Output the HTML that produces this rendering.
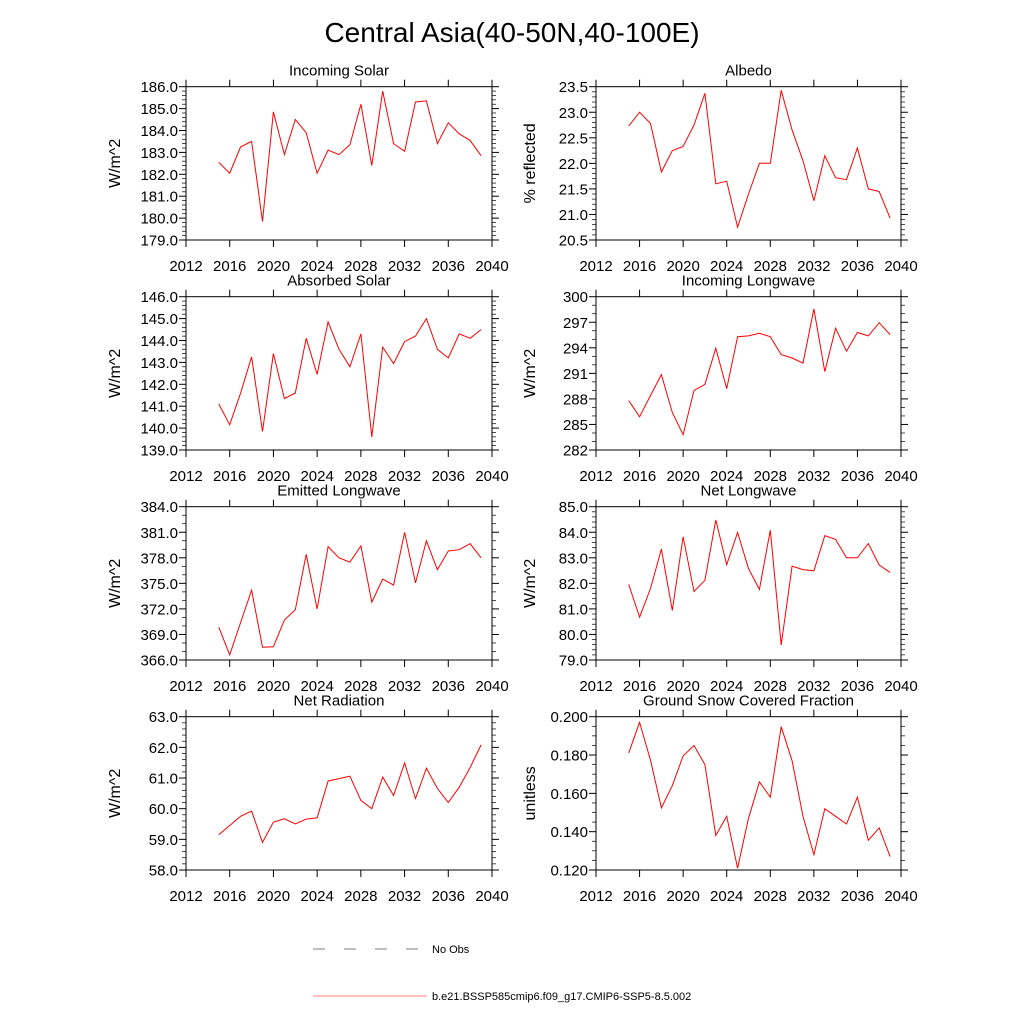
<!DOCTYPE html>
<html><head><meta charset="utf-8"><style>
html,body{margin:0;padding:0;background:#fff;}
svg{display:block;font-family:"Liberation Sans",sans-serif;}
</style></head><body>
<svg id="fig" width="1024" height="1024" viewBox="0 0 1024 1024" xmlns="http://www.w3.org/2000/svg">
<text x="512" y="42" font-size="28" text-anchor="middle">Central Asia(40-50N,40-100E)</text>
<g>
<line x1="313" y1="949" x2="418" y2="949" stroke="#000" stroke-width="0.6" stroke-dasharray="12,19"/>
<text x="432" y="953" font-size="11">No Obs</text>
<line x1="313" y1="996" x2="427" y2="996" stroke="#f00" stroke-width="0.6"/>
<text x="432" y="1000" font-size="11">b.e21.BSSP585cmip6.f09_g17.CMIP6-SSP5-8.5.002</text>
</g>
</svg>
<script>
const years = [2015,2016,2017,2018,2019,2020,2021,2022,2023,2024,2025,2026,2027,2028,2029,2030,2031,2032,2033,2034,2035,2036,2037,2038,2039];
const xTicks = [2012,2016,2020,2024,2028,2032,2036,2040];
const incomingSolar = [182.55,182.05,183.25,183.5,179.85,184.85,182.9,184.5,183.9,182.05,183.1,182.9,183.35,185.2,182.4,185.8,183.4,183.05,185.3,185.35,183.4,184.35,183.85,183.55,182.85];
const albedo = [22.73,23.0,22.78,21.83,22.25,22.33,22.75,23.37,21.6,21.65,20.75,21.4,22.0,22.0,23.43,22.65,22.05,21.27,22.15,21.72,21.68,22.3,21.5,21.45,20.93];
const absorbedSolar = [141.1,140.15,141.6,143.25,139.85,143.4,141.35,141.6,144.1,142.45,144.85,143.6,142.8,144.3,139.6,143.7,142.95,143.95,144.2,145.0,143.6,143.2,144.3,144.1,144.5];
const incomingLW = [287.8,285.9,288.4,290.85,286.4,283.8,289.0,289.7,293.95,289.2,295.3,295.4,295.7,295.3,293.2,292.8,292.2,298.55,291.2,296.3,293.6,295.8,295.4,296.95,295.55];
const emittedLW = [369.85,366.6,370.4,374.2,367.5,367.55,370.7,371.9,378.4,372.0,379.3,378.0,377.5,379.4,372.8,375.5,374.8,381.0,375.05,380.0,376.6,378.8,378.95,379.65,378.0];
const netLW = [81.96,80.68,81.8,83.34,80.94,83.82,81.68,82.12,84.48,82.73,83.99,82.58,81.76,84.08,79.59,82.67,82.54,82.49,83.87,83.72,83.0,83.0,83.56,82.72,82.43];
const netRad = [59.15,59.45,59.75,59.92,58.9,59.56,59.67,59.5,59.66,59.7,60.9,60.98,61.06,60.27,60.0,61.03,60.43,61.49,60.33,61.32,60.66,60.2,60.7,61.34,62.08];
const snowFrac = [0.1811,0.197,0.1773,0.1524,0.164,0.1795,0.185,0.175,0.138,0.148,0.121,0.147,0.166,0.158,0.1948,0.177,0.148,0.128,0.152,0.148,0.144,0.158,0.1355,0.142,0.127];
const ticksIS = [179,180,181,182,183,184,185,186];
const ticksAlb = [20.5,21.0,21.5,22.0,22.5,23.0,23.5];
const ticksAS = [139,140,141,142,143,144,145,146];
const ticksILW = [282,285,288,291,294,297,300];
const ticksELW = [366,369,372,375,378,381,384];
const ticksNLW = [79,80,81,82,83,84,85];
const ticksNR = [58,59,60,61,62,63];
const ticksSnow = [0.12,0.14,0.16,0.18,0.20];

const NS='http://www.w3.org/2000/svg';
const svg=document.getElementById('fig');
function mk(tag,attrs,parent){const e=document.createElementNS(NS,tag);for(const k in attrs)e.setAttribute(k,attrs[k]);(parent||svg).appendChild(e);return e;}

const panels=[
 {key:'incoming-solar',title:'Incoming Solar',ylab:'W/m^2',vals:incomingSolar,ticks:ticksIS,dec:1,minor:5,col:0,row:0},
 {key:'albedo',title:'Albedo',ylab:'% reflected',vals:albedo,ticks:ticksAlb,dec:1,minor:5,col:1,row:0},
 {key:'absorbed-solar',title:'Absorbed Solar',ylab:'W/m^2',vals:absorbedSolar,ticks:ticksAS,dec:1,minor:5,col:0,row:1},
 {key:'incoming-longwave',title:'Incoming Longwave',ylab:'W/m^2',vals:incomingLW,ticks:ticksILW,dec:0,minor:3,col:1,row:1},
 {key:'emitted-longwave',title:'Emitted Longwave',ylab:'W/m^2',vals:emittedLW,ticks:ticksELW,dec:1,minor:3,col:0,row:2},
 {key:'net-longwave',title:'Net Longwave',ylab:'W/m^2',vals:netLW,ticks:ticksNLW,dec:1,minor:5,col:1,row:2},
 {key:'net-radiation',title:'Net Radiation',ylab:'W/m^2',vals:netRad,ticks:ticksNR,dec:1,minor:5,col:0,row:3},
 {key:'snow-fraction',title:'Ground Snow Covered Fraction',ylab:'unitless',vals:snowFrac,ticks:ticksSnow,dec:3,minor:4,col:1,row:3}
];
const colX=[186,596], W=[306,305], rowY=[86.7,296.7,506.7,716.7], H=153.3;

panels.forEach(p=>{
  const x0=colX[p.col], w=W[p.col], y0=rowY[p.row];
  const g=mk('g',{});
  
  
  const xmin=xTicks[0], xmax=xTicks[xTicks.length-1];
  const ymin=p.ticks[0], ymax=p.ticks[p.ticks.length-1];
  const sx=v=>x0+(v-xmin)/(xmax-xmin)*w;
  const sy=v=>y0+H-(v-ymin)/(ymax-ymin)*H;
  const tg=mk('g',{stroke:'#000','stroke-width':1},g);
  xTicks.forEach(t=>{
    const X=sx(t);
    mk('line',{x1:X,y1:y0+H,x2:X,y2:y0+H+7},tg);
    mk('line',{x1:X,y1:y0,x2:X,y2:y0-7},tg);
    const lb=mk('text',{x:X,y:y0+H+31,'font-size':15,'text-anchor':'middle',stroke:'none'},g);
    lb.textContent=t;
    
    
  });
  for(let i=0;i<p.ticks.length;i++){
    const t=p.ticks[i], Y=sy(t);
    mk('line',{x1:x0,y1:Y,x2:x0-7,y2:Y},tg);
    mk('line',{x1:x0+w,y1:Y,x2:x0+w+7,y2:Y},tg);
    if(i<p.ticks.length-1){
      const step=(p.ticks[i+1]-t)/p.minor;
      for(let m=1;m<p.minor;m++){
        const Ym=sy(t+m*step);
        mk('line',{x1:x0,y1:Ym,x2:x0-4,y2:Ym,'stroke-width':0.7},tg);
        mk('line',{x1:x0+w,y1:Ym,x2:x0+w+4,y2:Ym,'stroke-width':0.7},tg);
      }
    }
    const lb=mk('text',{x:x0-8,y:Y+5.5,'font-size':15,'text-anchor':'end'},g);
    lb.textContent=t.toFixed(p.dec);
    
    
  }
  const box=mk('rect',{x:x0,y:y0,width:w,height:H,fill:'none',stroke:'#000','stroke-width':1},g);
  
  
  const pts=p.vals.map((v,i)=>sx(years[i]).toFixed(1)+','+sy(v).toFixed(1)).join(' ');
  const line=mk('polyline',{points:pts,fill:'none',stroke:'#f00','stroke-width':1},g);
  
  
  const tt=mk('text',{x:x0+w/2,y:y0-11,'font-size':15,'text-anchor':'middle'},g);
  tt.textContent=p.title;
  
  
  const lx=p.col===0?120:535;
  const yl=mk('text',{x:lx,y:y0+H/2,'font-size':16,'text-anchor':'middle',transform:'rotate(-90 '+lx+' '+(y0+H/2)+')'},g);
  yl.textContent=p.ylab;
  
  
});
</script>
</body></html>
